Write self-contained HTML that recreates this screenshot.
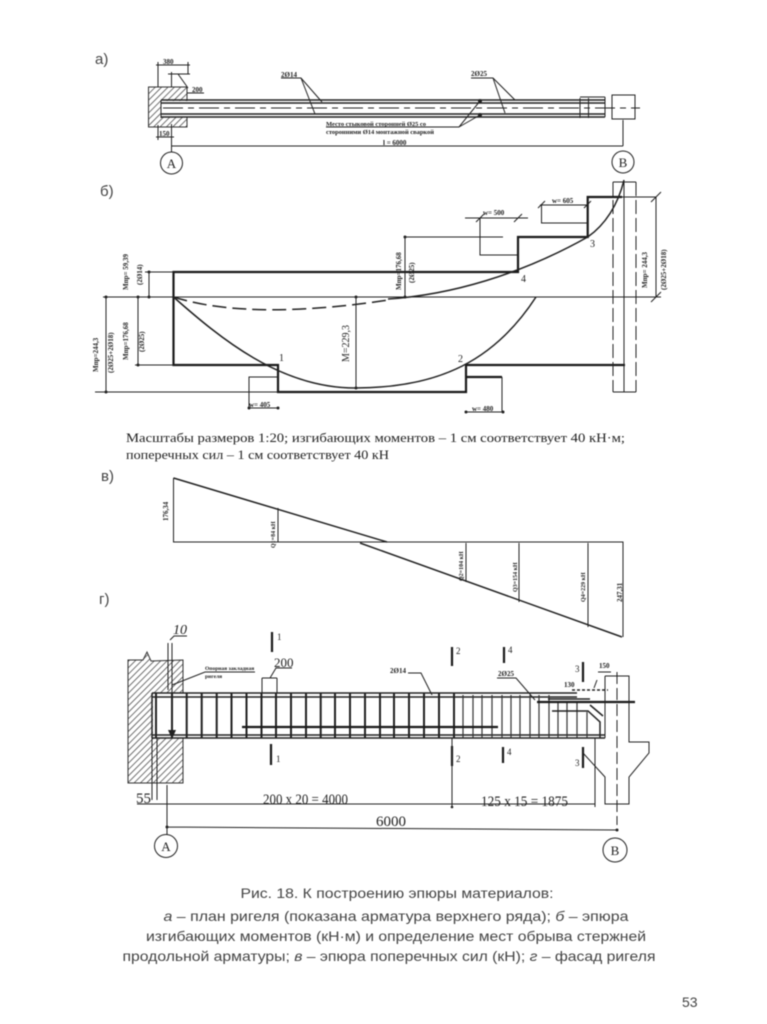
<!DOCTYPE html>
<html><head><meta charset="utf-8"><style>
html,body{margin:0;padding:0;background:#fff;width:767px;height:1024px;overflow:hidden}
svg{display:block;filter:blur(.6px)}
text{font-family:"Liberation Serif",serif;fill:#222}
.s,.s text{font-family:"Liberation Sans",sans-serif;fill:#444}
.t{stroke:#222;stroke-width:1;fill:none}
.m{stroke:#222;stroke-width:1.5;fill:none}
.b{stroke:#1a1a1a;stroke-width:2.2;fill:none}
.d{font-size:7px;font-weight:bold}
.c{stroke:#222;stroke-width:1;fill:#fff}
.k{fill:#222}
</style></head><body>
<svg width="767" height="1024" viewBox="0 0 767 1024" xmlns="http://www.w3.org/2000/svg">
<defs>
<pattern id="h" width="4.5" height="4.5" patternUnits="userSpaceOnUse" patternTransform="rotate(45)"><rect width="4.5" height="4.5" fill="#fff"/><line x1="0" y1="0" x2="0" y2="4.5" stroke="#444" stroke-width="1.5"/></pattern>
</defs>
<rect width="767" height="1024" fill="#fff"/>

<!-- а -->
<text x="95" y="64" class="s" font-size="15">а)</text>
<path d="M148.5 87H187V127H148.5Z" fill="url(#h)" stroke="#333"/>
<rect x="161" y="101" width="28" height="16" fill="#fff"/>
<path class="m" d="M161 100H605M161 103H605M161 114H605M161 117H605"/>
<path class="t" d="M161 100V118M580 98V118M588.5 98V118M605 97V117M580 97H605M612 95H635V119H612ZM623 120V146"/>
<path class="t" stroke-dasharray="20 5 6 5" d="M163 108H640"/>
<path class="t" d="M156 65H190M158 62V87M188 62V74M168 74H190M171.5 72V87M171.5 124V160M156 137H174M158 125V140M171.5 146H623"/>
<path class="t" d="M188 88L178 74M187 93H204"/>
<text x="163" y="64" class="d">380</text><text x="192" y="92" class="d">200</text><text x="159" y="136" class="d">150</text>
<path class="t" d="M281 78H301L322 102M301 78L315 114M471 78H493L515 100M493 78L505 113M326 127H459L480 101M459 127L480 115"/>
<circle cx="480" cy="101" r="2" class="k"/><circle cx="480" cy="115" r="2" class="k"/>
<text x="281" y="77" class="d">2Ø14</text><text x="471" y="76" class="d">2Ø25</text>
<text x="326" y="126" font-size="6.5" font-weight="bold" textLength="100">Место стыковой сторонней Ø25 со</text>
<text x="326" y="134" font-size="6.5" font-weight="bold" textLength="108">сторонними Ø14 монтажной сваркой</text>
<text x="383" y="145" class="d">l = 6000</text>
<circle cx="171.5" cy="163" r="11" class="c"/><circle cx="623" cy="162" r="11" class="c"/>
<text x="171.5" y="168" font-size="13" text-anchor="middle">А</text><text x="623" y="167" font-size="13" text-anchor="middle">В</text>

<!-- б -->
<text x="100" y="196" class="s" font-size="15">б)</text>
<path class="t" d="M103 297H661M95 392H278"/>
<path class="b" d="M173.5 297V272H518V237H587.7V197H622M173.5 297V365H278V392H466V365H625M466 377H502"/>
<path class="t" d="M622 197H656M656 197V297M651 202L661 192M651 302L661 292"/>
<path class="t" d="M278 377H249V408H278M502 377V412M466 412H503M480 218V255H518M465 218H528M541.5 205V223H587.7M540 205H588M405 237H503M405 237V297M173 272H145M149 272V297M138 297V365M173 365H135M106 297V392M103 297H173M356 297V388"/>
<path class="t" d="M476 222L484 214M514 222L522 214M538 208L545 201M584 208L591 201"/>
<g class="k"><circle cx="149" cy="272" r="1.5"/><circle cx="149" cy="297" r="1.5"/><circle cx="138" cy="297" r="1.5"/><circle cx="138" cy="365" r="1.5"/><circle cx="106" cy="297" r="1.5"/><circle cx="106" cy="392" r="1.5"/><circle cx="356" cy="297" r="1.5"/><circle cx="356" cy="388" r="1.5"/><circle cx="405" cy="237" r="1.5"/><circle cx="405" cy="297" r="1.5"/><circle cx="249" cy="408" r="1.5"/><circle cx="278" cy="408" r="1.5"/><circle cx="466" cy="412" r="1.5"/><circle cx="503" cy="412" r="1.5"/></g>
<path class="m" d="M173.5 297C220 338 280 388 355 388C440 388 495 360 536 297"/>
<path class="m" stroke-dasharray="14 6" d="M173.5 297C230 315 310 312 388 300"/>
<path class="m" d="M388 299C450 295 520 275 587.7 237C605 225 618 205 624 180"/>
<path class="t" d="M613 182H636M613 392H636"/>
<path class="t" stroke-dasharray="14 4" d="M613 182V392M636 182V392"/>
<path class="t" d="M624 180V392"/>
<g class="d">
<text transform="translate(128,290) rotate(-90)">Мпр= 59,39</text>
<text transform="translate(142,285) rotate(-90)">(2Ø14)</text>
<text transform="translate(128,360) rotate(-90)">Мпр=176,68</text>
<text transform="translate(144,352) rotate(-90)">(2Ø25)</text>
<text transform="translate(98,372) rotate(-90)">Мпр=244,3</text>
<text transform="translate(113,373) rotate(-90)">(2Ø25+2Ø18)</text>
<text transform="translate(401,290) rotate(-90)">Мпр=176,68</text>
<text transform="translate(414,283) rotate(-90)">(2Ø25)</text>
<text transform="translate(647,288) rotate(-90)">Мпр= 244,3</text>
<text transform="translate(666,290) rotate(-90)">(2Ø25+2Ø18)</text>
<text x="249" y="407">w= 405</text><text x="472" y="411">w= 480</text>
<text x="483" y="215">w= 500</text><text x="552" y="203">w= 605</text>
</g>
<text transform="translate(349,362) rotate(-90)" font-size="10">M=229,3</text>
<text x="279" y="361" font-size="10">1</text><text x="458" y="362" font-size="10">2</text><text x="590" y="247" font-size="10">3</text><text x="521" y="282" font-size="10">4</text>

<text x="126" y="442" font-size="12.5" textLength="499" lengthAdjust="spacingAndGlyphs">Масштабы размеров 1:20; изгибающих моментов – 1 см соответствует 40 кН·м;</text>
<text x="126" y="459" font-size="12.5" textLength="263" lengthAdjust="spacingAndGlyphs">поперечных сил – 1 см соответствует 40 кН</text>

<!-- в -->
<text x="101" y="481" class="s" font-size="15">в)</text>
<path class="t" d="M173.5 478V542H623V637M278 508V542M466 543V582M519 543V602M588 543V627"/>
<path class="m" d="M173.5 478L387 542M360 543L622 637"/>
<g class="d">
<text transform="translate(168,521) rotate(-90)">176,34</text>
<text transform="translate(275,548) rotate(-90)" style="font-size:6px">Q1=84 кН</text>
<text transform="translate(463,581) rotate(-90)" style="font-size:6px">Q2=104 кН</text>
<text transform="translate(517,592) rotate(-90)" style="font-size:6px">Q3=154 кН</text>
<text transform="translate(585,602) rotate(-90)" style="font-size:6px">Q4=229 кН</text>
<text transform="translate(622,602) rotate(-90)">247,31</text>
</g>

<!-- г -->
<text x="99" y="604" class="s" font-size="15">г)</text>
<path d="M128 660H143L147 652L151 661L183 660V783H128Z" fill="url(#h)" stroke="#333"/>
<rect x="153" y="693" width="31" height="45" fill="#fff"/>
<path class="m" d="M152 693H577M152 697H577M152 735H605M152 738H605M152 693V738"/>
<path class="t" d="M152 738V800M157 738V800M168 643V690M172 643V737M150 804H137"/>
<path stroke="#222" stroke-width="2" d="M156 693V738M172 693V738M186.7 693V738M201.7 693V738M216.7 693V738M231.5 693V738M246.5 693V738M261.5 693V738M276 693V738M291 693V738M306 693V738M320.7 693V738M335 693V738M350 693V738M365 693V738M380 693V738M394 693V738M409 693V738M424 693V738M439 693V738M454 693V738"/>
<path stroke="#333" stroke-width="1.2" d="M463 695V738M473 695V738M482 695V738M492 695V738M502 695V738M511 695V738M520 695V738M530 695V738M539 695V738M549 695V738M558 702V738M567 702V738M577 702V738M587 712V738"/>
<path class="b" d="M242 727H498M537 702H635"/>
<path class="m" d="M552 711H588L600 722V738M548 699H590M590 705L603 716"/>
<path d="M168 730L176 730L172 739Z" class="k"/>
<path class="t" d="M605 676H629V742H649V753L629 777V804H605V777L583 753M605 676V738"/>
<path class="t" stroke-dasharray="12 4" d="M617 672V825"/>
<path class="b" stroke-width="2.4" d="M272 632V652M271 744V765M452 647V666M452 746V766M504 647V663M503 747V763M583 662V682M583 747V768"/>
<g font-size="9"><text x="277" y="640">1</text><text x="276" y="762">1</text><text x="456" y="654">2</text><text x="456" y="762">2</text><text x="508" y="653">4</text><text x="507" y="755">4</text><text x="575" y="672">3</text><text x="575" y="766">3</text></g>
<path class="t" d="M262 678H277M262 678V693M277 678V693M270 678L276 668H292M172 685L205 672H255M170 640L174 636H187"/>
<text x="173" y="634" font-size="14" style="font-style:italic">10</text>
<text x="274" y="667" font-size="13">200</text>
<text x="205" y="670" font-size="5.5" font-weight="bold">Опорная закладная</text><text x="205" y="678" font-size="5.5" font-weight="bold">ригеля</text>
<path class="t" d="M408 673H421L432 695M497 678H516L535 700M597 680L594 688M598 672H611"/>
<text x="390" y="673" class="d">2Ø14</text><text x="498" y="676" class="d">2Ø25</text>
<text x="564" y="687" font-size="7" font-weight="bold">130</text><text x="599" y="668" class="d">150</text>
<path class="m" stroke-dasharray="3 2" d="M572 690H608"/>
<path class="t" d="M137 804H595M452 738V807M595 738V807M167 785V835M167 827L617 830"/>
<circle cx="452" cy="807" r="1.3" class="k"/><circle cx="167" cy="827" r="1.5" class="k"/><circle cx="617" cy="830" r="1.5" class="k"/>
<text x="136" y="803" font-size="15">55</text>
<text x="263" y="804" font-size="14.5" textLength="85" lengthAdjust="spacingAndGlyphs">200 x 20 = 4000</text>
<text x="481" y="806" font-size="14.5" textLength="87" lengthAdjust="spacingAndGlyphs">125 x 15 = 1875</text>
<text x="376" y="826" font-size="15">6000</text>
<circle cx="166" cy="846" r="11.5" class="c"/><circle cx="615" cy="850" r="12" class="c"/>
<text x="166" y="851" font-size="13" text-anchor="middle">А</text><text x="615" y="855" font-size="13" text-anchor="middle">В</text>

<!-- caption -->
<g class="s" font-size="14" text-anchor="middle">
<text x="397" y="898" textLength="313" lengthAdjust="spacingAndGlyphs">Рис. 18. К построению эпюры материалов:</text>
<text x="396" y="921" textLength="465" lengthAdjust="spacingAndGlyphs"><tspan font-style="italic">а</tspan> – план ригеля (показана арматура верхнего ряда); <tspan font-style="italic">б</tspan> – эпюра</text>
<text x="396" y="941" textLength="500" lengthAdjust="spacingAndGlyphs">изгибающих моментов (кН·м) и определение мест обрыва стержней</text>
<text x="389" y="961" textLength="533" lengthAdjust="spacingAndGlyphs">продольной арматуры; <tspan font-style="italic">в</tspan> – эпюра поперечных сил (кН); <tspan font-style="italic">г</tspan> – фасад ригеля</text>
</g>
<text x="682" y="1007" class="s" font-size="14">53</text>
</svg>
</body></html>
